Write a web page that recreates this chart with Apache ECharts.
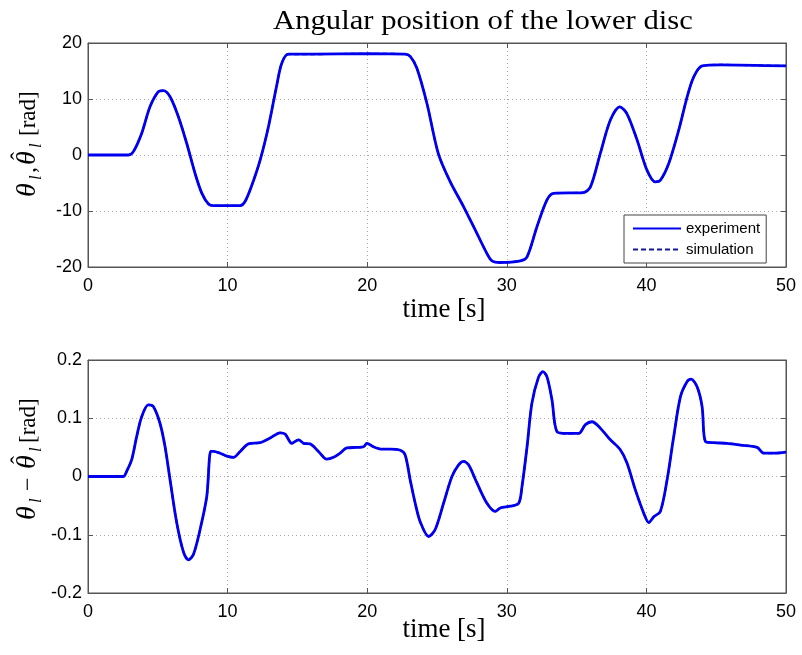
<!DOCTYPE html>
<html><head><meta charset="utf-8">
<script src="https://cdn.jsdelivr.net/npm/echarts@6/dist/echarts.min.js"></script>
<style>html,body{margin:0;padding:0;background:#fff}#c{width:802px;height:655px}</style>
</head><body><div id="c"></div>
<script>
// ---- data ----
var tTop = [0,2.9,3.25,3.85,4.44,5.04,5.4,5.88,6.48,7.07,7.67,8.15,8.63,8.98,10.9,11.25,11.7,12.33,12.93,13.5,13.88,14.36,16.1,20.0,22.7,23.08,23.56,24.28,25.1,25.95,26.9,27.86,28.58,28.94,29.53,30.97,31.45,32.16,32.88,33.36,35.5,36.0,36.7,37.42,38.09,38.6,39.33,40.04,40.64,41.0,41.6,42.32,42.92,43.4,44.0,45.3,50];
var thetaExp = [0,0,0.6,3.9,8.6,11.3,11.5,10.4,6.8,2.1,-3.3,-6.8,-8.75,-9.05,-9.05,-8.3,-5.65,-0.9,5.1,12.2,16.4,18.0,18.0,18.1,18.0,17.6,15.5,9.2,0.2,-4.8,-9.2,-14,-17.6,-18.9,-19.2,-18.9,-18.2,-12.8,-8.0,-6.85,-6.7,-5.65,0.3,6.25,8.6,7.4,2.7,-2.7,-4.8,-4.5,-1.5,4.5,10.4,14.0,15.9,16.1,15.9];
var thetaSim = thetaExp;
var tBot = [0,2.53,2.77,3.13,3.49,3.85,4.32,4.68,5.16,5.52,5.88,6.36,6.83,7.19,7.55,8.03,8.51,8.79,8.98,9.46,9.94,10.42,10.9,11.49,12.33,13.05,13.76,14.12,14.6,15.08,15.44,15.91,16.51,17.1,17.59,18.06,18.54,19.26,19.74,19.98,20.45,21.05,21.65,22.37,22.72,23.08,23.44,23.8,24.4,24.87,25.47,26.07,26.55,26.9,27.26,27.86,28.58,29.18,29.53,30.25,30.85,31.09,31.45,31.8,32.28,32.59,32.88,33.24,33.6,34.31,35.15,35.63,36.1,36.7,37.42,38.13,38.61,39.21,39.81,40.17,40.53,41.0,41.48,41.96,42.44,42.92,43.2,43.63,43.99,44.23,44.83,45.78,46.74,47.93,48.41,49.13,50];
var errBot = [0,0,0.009,0.029,0.069,0.103,0.123,0.12,0.091,0.051,-0.006,-0.08,-0.129,-0.143,-0.134,-0.091,-0.034,0.043,0.043,0.04,0.035,0.033,0.043,0.056,0.058,0.066,0.075,0.073,0.057,0.063,0.057,0.056,0.043,0.03,0.033,0.04,0.049,0.05,0.051,0.057,0.051,0.047,0.047,0.045,0.037,-0.006,-0.046,-0.078,-0.103,-0.091,-0.046,0,0.02,0.026,0.02,-0.011,-0.046,-0.06,-0.054,-0.051,-0.046,-0.017,0.051,0.126,0.171,0.18,0.171,0.131,0.077,0.074,0.074,0.089,0.094,0.083,0.063,0.046,0.023,-0.023,-0.063,-0.079,-0.069,-0.06,-0.006,0.069,0.137,0.163,0.167,0.154,0.12,0.06,0.058,0.057,0.054,0.05,0.04,0.04,0.042];
var errSim = errBot;
var xTicks = {min:0, max:50, interval:10};
var yTopTicks = {min:-20, max:20, interval:10};
var yBotTicks = {min:-0.2, max:0.2, interval:0.1};
var titleText = 'Angular position of the lower disc';
var xName = 'time [s]';
var legendNames = ['experiment','simulation'];

function pairs(xs, ys){ return xs.map(function(x,i){ return [x, ys[i]]; }); }

var expColor = '#0000ee', simColor = '#16169a';
var serif = "'Liberation Serif','DejaVu Serif',serif";
var sans = "'Liberation Sans',Arial,sans-serif";

function xAxis(gi, top){
  return {type:'value', gridIndex:gi, position: top ? 'top' : 'bottom',
    min:xTicks.min, max:xTicks.max, interval:xTicks.interval,
    axisLine:{show:true, onZero:false, lineStyle:{color:'#555'}},
    axisTick:{show:true, inside:true, length:5, lineStyle:{color:'#555'}},
    axisLabel:{show:!top, fontFamily:sans, fontSize:18, color:'#000', margin:10},
    splitLine:{show:!top, lineStyle:{color:'#aaa', type:[1,3], width:1}}};
}
function yAxis(gi, t, right){
  return {type:'value', gridIndex:gi, position: right ? 'right' : 'left',
    min:t.min, max:t.max, interval:t.interval,
    axisLine:{show:true, onZero:false, lineStyle:{color:'#555'}},
    axisTick:{show:true, inside:true, length:5, lineStyle:{color:'#555'}},
    axisLabel:{show:!right, fontFamily:sans, fontSize:18, color:'#000', margin:6},
    splitLine:{show:!right, lineStyle:{color:'#aaa', type:[1,3], width:1}}};
}
// text placed by its baseline: middle of line box ~ baseline - 0.33 * size
function txt(x, yBase, s, size, style, extra){
  var o = {type:'text', x:x, y:yBase - 0.33 * size,
    style:{text:s, font:(style ? style + ' ' : '') + size + 'px ' + serif, fill:'#000', verticalAlign:'middle', align:'left'}};
  if (extra) for (var k in extra) o[k] = extra[k];
  return o;
}
// rotated y-axis label built from glyph pieces (local coords: x along text, y below baseline)
function yLabel(ox, oy, sep){
  var k = [];
  k.push(txt(0, 0, 'θ', 28, 'italic'));
  k.push(txt(17, 5, 'l', 17, 'italic'));
  if (sep === ',') {
    k.push(txt(24, 0, ',', 24));
    k.push(txt(32, 0, 'θ', 28, 'italic')); k.push(txt(37, -8, 'ˆ', 24));
    k.push(txt(49, 5, 'l', 17, 'italic'));
    k.push(txt(61, 0, '[rad]', 23));
  } else {
    k.push(txt(29, 0, '−', 24));
    k.push(txt(51, 0, 'θ', 28, 'italic')); k.push(txt(56, -8, 'ˆ', 24));
    k.push(txt(68, 5, 'l', 17, 'italic'));
    k.push(txt(77, 0, '[rad]', 23));
  }
  return {type:'group', x:ox, y:oy, rotation:Math.PI/2, children:k};
}

var chart = echarts.init(document.getElementById('c'), null, {renderer:'canvas'});
chart.setOption({
  animation:false,
  backgroundColor:'#fff',
  graphic:[
    txt(273, 31, titleText, 28, '', {scaleX:1.095}),
    {type:'text', x:444, y:319 - 9, style:{text:xName, font:'27px '+serif, fill:'#000', align:'center', verticalAlign:'middle'}},
    {type:'text', x:444, y:639 - 9, style:{text:xName, font:'27px '+serif, fill:'#000', align:'center', verticalAlign:'middle'}},
    yLabel(37, 197, ','),
    yLabel(37, 520, '-')
  ],
  grid:[
    {left:88, top:43, width:698, height:224, show:true, borderColor:'#555', borderWidth:1, backgroundColor:'#fff'},
    {left:88, top:360, width:698, height:233, show:true, borderColor:'#555', borderWidth:1, backgroundColor:'#fff'}
  ],
  xAxis:[xAxis(0), xAxis(1), xAxis(0, true), xAxis(1, true)],
  yAxis:[yAxis(0, yTopTicks), yAxis(1, yBotTicks), yAxis(0, yTopTicks, true), yAxis(1, yBotTicks, true)],
  legend:{show:true, orient:'vertical', left:624, top:215, width:140,
    data:legendNames, itemWidth:48, itemHeight:12, itemGap:6,
    itemStyle:{opacity:0},
    backgroundColor:'#fff', borderColor:'#444', borderWidth:1, padding:[6,6,6,8],
    textStyle:{fontFamily:sans, fontSize:15, color:'#000'}},
  series:[
    {name:legendNames[1], type:'line', xAxisIndex:0, yAxisIndex:0, data:pairs(tTop, thetaSim), symbol:'none', smooth:0.3, z:2,
      lineStyle:{color:simColor, width:2, type:[5,3]}, itemStyle:{color:simColor}},
    {name:legendNames[0], type:'line', xAxisIndex:0, yAxisIndex:0, data:pairs(tTop, thetaExp), symbol:'none', smooth:0.3, z:3,
      lineStyle:{color:expColor, width:2.8}, itemStyle:{color:expColor}},
    {name:legendNames[1], type:'line', xAxisIndex:1, yAxisIndex:1, data:pairs(tBot, errSim), symbol:'none', smooth:0.3, z:2,
      lineStyle:{color:simColor, width:2, type:[5,3]}, itemStyle:{color:simColor}},
    {name:legendNames[0], type:'line', xAxisIndex:1, yAxisIndex:1, data:pairs(tBot, errBot), symbol:'none', smooth:0.3, z:3,
      lineStyle:{color:expColor, width:2.8}, itemStyle:{color:expColor}}
  ]
});
</script></body></html>
